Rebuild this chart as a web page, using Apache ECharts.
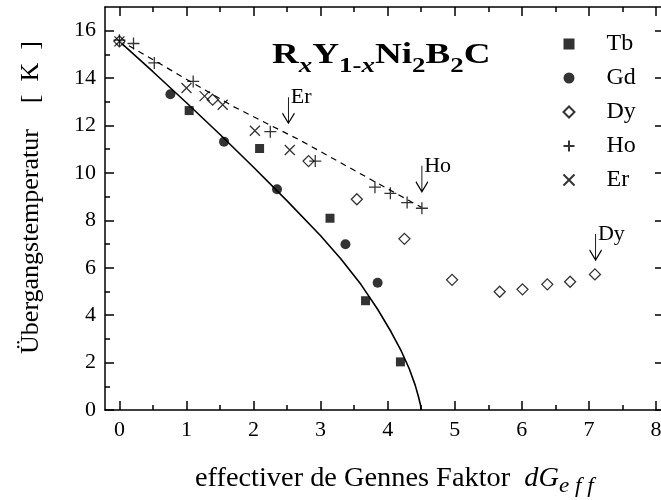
<!DOCTYPE html>
<html><head><meta charset="utf-8">
<script src="https://cdn.jsdelivr.net/npm/echarts@6/dist/echarts.min.js"></script>
<style>html,body{margin:0;padding:0;background:#fff}#c{width:661px;height:500px}</style>
</head><body><div id="c"></div>
<script>
const tbX = [1.04, 2.09, 3.14, 3.67, 4.19];
const tbY = [12.63, 11.03, 8.09, 4.61, 2.03];
const gdX = [0.76, 1.56, 2.35, 3.37, 3.85];
const gdY = [13.32, 11.32, 9.31, 6.99, 5.37];
const dyX = [0, 1.39, 2.82, 3.54, 4.25, 4.96, 5.67, 6.01, 6.38, 6.72, 7.09];
const dyY = [15.55, 13.09, 10.5, 8.89, 7.22, 5.49, 4.99, 5.09, 5.3, 5.41, 5.72];
const hoX = [0, 0.21, 0.52, 1.1, 2.25, 2.92, 3.81, 4.04, 4.29, 4.51];
const hoY = [15.6, 15.46, 14.64, 13.86, 11.74, 10.5, 9.4, 9.14, 8.75, 8.51];
const erX = [0, 1.0, 1.27, 1.54, 2.02, 2.54];
const erY = [15.55, 13.58, 13.24, 12.88, 11.78, 10.97];
const fitSolidX = [0, 0.5, 1, 1.5, 2, 2.5, 3.0, 3.3, 3.6, 3.85, 4.05, 4.2, 4.32, 4.41, 4.46, 4.49, 4.5];
const fitSolidY = [15.55, 14.27, 12.96, 11.62, 10.24, 8.82, 7.35, 6.38, 5.3, 4.25, 3.3, 2.5, 1.75, 1.05, 0.55, 0.2, 0];
const fitDashX = [0, 1.7, 2.7, 3.7, 4.5];
const fitDashY = [15.6, 12.8, 11.37, 9.8, 8.55];
const xTicks = [0, 1, 2, 3, 4, 5, 6, 7, 8];
const xMinor = [0.5, 1.5, 2.5, 3.5, 4.5, 5.5, 6.5, 7.5];
const yTicks = [0, 2, 4, 6, 8, 10, 12, 14, 16];
const yMinor = [1, 3, 5, 7, 9, 11, 13, 15];
const arrows = [
  {name: 'Er', x: 2.52, y: 12.1},
  {name: 'Ho', x: 4.51, y: 9.21},
  {name: 'Dy', x: 7.1, y: 6.33}
];

const zip = (a, b) => a.map((v, i) => [v, b[i]]);
const F = 'Liberation Serif';
const X0 = -0.215, X1 = 8.12, Y0 = 0, Y1 = 17;
const plusPath = 'path://M0,5L10,5M5,0L5,10';
const crossPath = 'path://M0,0L10,10M10,0L0,10';
const arrowPath = 'path://M6,0L6,26M0,16L6,26L12,16';

function xa(pos, vals, len, labels, line) {
  return {type: 'value', position: pos, min: X0, max: X1,
    axisLine: {show: line, onZero: false, lineStyle: {color: '#000', width: 1.5}},
    axisTick: {show: true, inside: true, length: len, customValues: vals, lineStyle: {color: '#000', width: 1.5}},
    axisLabel: {show: labels, customValues: vals, margin: 9, color: '#000', fontFamily: F, fontSize: 22},
    splitLine: {show: false}};
}
function ya(pos, vals, len, labels, line) {
  return {type: 'value', position: pos, min: Y0, max: Y1,
    axisLine: {show: line, onZero: false, lineStyle: {color: '#000', width: 1.5}},
    axisTick: {show: len > 0, inside: true, length: len, customValues: vals, lineStyle: {color: '#000', width: 1.5}},
    axisLabel: {show: labels, customValues: vals, margin: 9, color: '#000', fontFamily: F, fontSize: 22},
    splitLine: {show: false}};
}

const xAxes = [
  xa('bottom', xTicks, 9, true, true),
  xa('bottom', xMinor, 5, false, false),
  xa('top', xTicks, 9, false, true),
  xa('top', xMinor, 5, false, false)
];
const yAxes = [
  ya('left', yTicks, 9, true, true),
  ya('left', yMinor, 5, false, false),
  ya('right', yTicks, 9, false, true)
];
yAxes[0].name = 'Übergangstemperatur    [  K  ]';
yAxes[0].nameLocation = 'middle';
yAxes[0].nameGap = 61;
yAxes[0].nameTextStyle = {color: '#000', fontFamily: F, fontSize: 26, padding: [0, 0, 0, 22]};

const blk = '#000';
const series = [
  {name: 'fit1', type: 'line', data: zip(fitSolidX, fitSolidY), smooth: false, symbol: 'none',
    lineStyle: {color: blk, width: 1.6}, silent: true, z: 1,
    markPoint: {symbol: arrowPath, symbolSize: [12, 26], symbolOffset: [0, '-50%'],
      itemStyle: {color: 'none', borderColor: blk, borderWidth: 1.3},
      label: {show: true, position: [10, -7], formatter: '{b}', color: blk, fontFamily: F, fontSize: 22},
      data: arrows.map(a => ({name: a.name, coord: [a.x, a.y]}))}},
  {name: 'fit2', type: 'line', data: zip(fitDashX, fitDashY), symbol: 'none',
    lineStyle: {color: blk, width: 1.2, type: [6, 5]}, silent: true, z: 1},
  {name: 'Tb', type: 'scatter', data: zip(tbX, tbY), symbol: 'rect', symbolSize: 9,
    itemStyle: {color: blk}, z: 3},
  {name: 'Gd', type: 'scatter', data: zip(gdX, gdY), symbol: 'circle', symbolSize: 10,
    itemStyle: {color: blk}, z: 3},
  {name: 'Dy', type: 'scatter', data: zip(dyX, dyY), symbol: 'diamond', symbolSize: 11,
    itemStyle: {color: '#fff', borderColor: blk, borderWidth: 1.3}, z: 4},
  {name: 'Ho', type: 'scatter', data: zip(hoX, hoY), symbol: plusPath, symbolSize: 12,
    itemStyle: {color: 'none', borderColor: blk, borderWidth: 1.3}, z: 5},
  {name: 'Er', type: 'scatter', data: zip(erX, erY), symbol: crossPath, symbolSize: 10,
    itemStyle: {color: 'none', borderColor: blk, borderWidth: 1.3}, z: 5}
];

const chart = echarts.init(document.getElementById('c'), null, {renderer: 'canvas'});
chart.setOption({
  animation: false,
  backgroundColor: '#fff',
  grid: {left: 105, width: 559, top: 7, bottom: 90, containLabel: false, outerBoundsMode: 'none'},
  xAxis: xAxes,
  yAxis: yAxes,
  legend: {
    data: ['Tb', 'Gd', 'Dy', 'Ho', 'Er'],
    orient: 'vertical', left: 556, top: 27,
    itemWidth: 11, itemHeight: 11, itemGap: 10,
    textStyle: {color: blk, fontFamily: F, fontSize: 24, lineHeight: 24, padding: [0, 0, 0, 27]},
    selectedMode: false
  },
  graphic: [{
    type: 'text', left: 272, top: 41, scaleX: 1.28,
    style: {
      text: '{b|R}{si|x}{b|Y}{s|1-}{si|x}{b|Ni}{s|2}{b|B}{s|2}{b|C}',
      rich: {
        b: {fontFamily: F, fontWeight: 'bold', fontSize: 29, fill: blk, verticalAlign: 'top', lineHeight: 31},
        s: {fontFamily: F, fontWeight: 'bold', fontSize: 21, fill: blk, verticalAlign: 'top', lineHeight: 31, padding: [15, 0, 0, 0]},
        si: {fontFamily: F, fontWeight: 'bold', fontStyle: 'italic', fontSize: 21, fill: blk, verticalAlign: 'top', lineHeight: 31, padding: [15, 0, 0, 0]}
      }
    }
  }, {
    type: 'text', left: 195, top: 465, scaleX: 1.05,
    style: {
      text: '{n|effectiver de Gennes Faktor  }{i|dG}{s|e f f}',
      rich: {
        n: {fontFamily: F, fontSize: 27, fill: blk, verticalAlign: 'top', lineHeight: 30},
        i: {fontFamily: F, fontSize: 27, fontStyle: 'italic', fill: blk, verticalAlign: 'top', lineHeight: 30},
        s: {fontFamily: F, fontSize: 22, fontStyle: 'italic', fill: blk, verticalAlign: 'top', lineHeight: 30, padding: [10, 0, 0, 0]}
      }
    }
  }],
  series: series
});
</script></body></html>
